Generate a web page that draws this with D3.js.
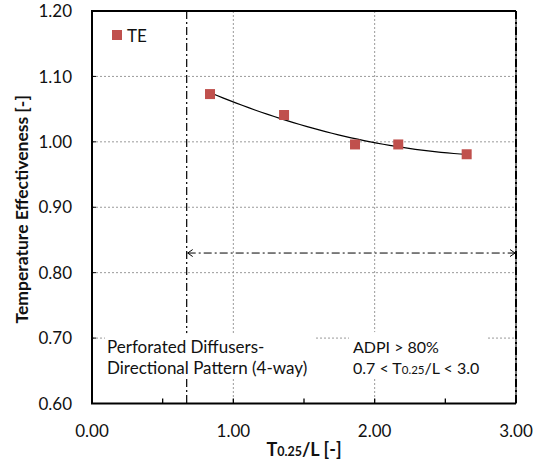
<!DOCTYPE html>
<html lang="en">
<meta charset="utf-8">
<head>
    <script src="https://d3js.org/d3.v7.min.js"></script>
    <style>
        body { margin: 0; background: #fff; }
        svg { font-family: "Lato", "Liberation Sans", sans-serif; }
    </style>
</head>
<body>
<div id="chart"></div>
<script>
// data
var ratio = [0.835, 1.359, 1.861, 2.167, 2.651];      // T0.25/L
var te    = [1.073, 1.041, 0.996, 0.996, 0.981];      // temperature effectiveness
var xTicks = [0, 1, 2, 3];
var xMinor = [0.5, 1.5, 2.5];
var yTicks = [0.6, 0.7, 0.8, 0.9, 1.0, 1.1, 1.2];
var rangeStart = 0.67, rangeEnd = 3.0, rangeY = 0.83;  // ADPI range marker

var margin = {top: 11, right: 21, bottom: 65.5, left: 92},
    width = 537 - margin.left - margin.right,
    height = 469 - margin.top - margin.bottom;

var svg = d3.select("#chart")
  .append("svg")
    .attr("width", 537)
    .attr("height", 469)
  .append("g")
    .attr("transform", "translate(" + margin.left + "," + margin.top + ")");

var x = d3.scaleLinear().domain([0, 3]).range([0, width]);
var y = d3.scaleLinear().domain([0.6, 1.2]).range([height, 0]);

// gridlines
svg.append("g")
  .selectAll("line")
  .data(yTicks.slice(1, -1))
  .enter().append("line")
    .attr("x1", 0).attr("x2", width)
    .attr("y1", function(d) { return y(d); })
    .attr("y2", function(d) { return y(d); })
    .attr("stroke", "#9a9a9a").attr("stroke-dasharray", "2,2");
svg.append("g")
  .selectAll("line")
  .data(xTicks.slice(1, -1))
  .enter().append("line")
    .attr("y1", 0).attr("y2", height)
    .attr("x1", function(d) { return x(d); })
    .attr("x2", function(d) { return x(d); })
    .attr("stroke", "#9a9a9a").attr("stroke-dasharray", "2,2");

// inner ticks
svg.append("g")
  .selectAll("line")
  .data(yTicks)
  .enter().append("line")
    .attr("x1", 0).attr("x2", 4)
    .attr("y1", function(d) { return y(d); })
    .attr("y2", function(d) { return y(d); })
    .attr("stroke", "#000");
svg.append("g")
  .selectAll("line")
  .data(xTicks.concat(xMinor))
  .enter().append("line")
    .attr("y1", height).attr("y2", height - 5)
    .attr("x1", function(d) { return x(d); })
    .attr("x2", function(d) { return x(d); })
    .attr("stroke", "#000").attr("stroke-width", 1.3);

// dash-dot range lines
var dashDot = "8,3,2,3";
svg.append("line")
  .attr("x1", x(rangeStart)).attr("x2", x(rangeStart))
  .attr("y1", 0).attr("y2", height)
  .attr("stroke", "#000").attr("stroke-width", 1.2).attr("stroke-dasharray", dashDot);

svg.append("line")
  .attr("x1", x(rangeStart) + 1).attr("x2", x(rangeEnd) - 1)
  .attr("y1", y(rangeY)).attr("y2", y(rangeY))
  .attr("stroke", "#000").attr("stroke-width", 1).attr("stroke-dasharray", dashDot);
// arrow heads
svg.append("path")
  .attr("d", "M" + (x(rangeStart) + 6) + "," + (y(rangeY) - 3.5) + "L" + (x(rangeStart) + 1) + "," + y(rangeY) +
             "L" + (x(rangeStart) + 6) + "," + (y(rangeY) + 3.5))
  .attr("fill", "none").attr("stroke", "#000");
svg.append("path")
  .attr("d", "M" + (x(rangeEnd) - 6) + "," + (y(rangeY) - 3.5) + "L" + (x(rangeEnd) - 1) + "," + y(rangeY) +
             "L" + (x(rangeEnd) - 6) + "," + (y(rangeY) + 3.5))
  .attr("fill", "none").attr("stroke", "#000");

// note boxes
var notes = svg.append("g");
notes.append("rect")
  .attr("x", 13).attr("y", y(0.7) - 5).attr("width", 210).attr("height", 44)
  .attr("fill", "#fff");
notes.append("rect")
  .attr("x", 257).attr("y", y(0.7) - 6).attr("width", 139).attr("height", 46)
  .attr("fill", "#fff");
var note1 = notes.append("text")
  .attr("font-size", "17px").attr("fill", "#111");
note1.append("tspan").attr("x", 15).attr("y", 342).text("Perforated Diffusers-");
note1.append("tspan").attr("x", 15).attr("y", 363).text("Directional Pattern (4-way)");
var note2 = notes.append("text")
  .attr("font-size", "16px").attr("fill", "#111");
note2.append("tspan").attr("x", 261).attr("y", 342).text("ADPI > 80%");
note2.append("tspan").text("0.7 < T").attr("x", 261).attr("y", 363);
note2.append("tspan").attr("font-size", "11.5px").text("0.25");
note2.append("tspan").text("/L < 3.0");

// right border / range end
svg.append("line")
  .attr("x1", width).attr("x2", width).attr("y1", 0).attr("y2", height)
  .attr("stroke", "#777").attr("stroke-width", 2);
svg.append("line")
  .attr("x1", width).attr("x2", width).attr("y1", 0).attr("y2", height)
  .attr("stroke", "#000").attr("stroke-width", 2).attr("stroke-dasharray", dashDot);

// left, top, bottom frame
svg.append("path")
  .attr("d", "M" + width + ",0H0V" + height + "H" + width)
  .attr("fill", "none").attr("stroke", "#000").attr("stroke-width", 2);

// quadratic trend line (least squares on the points)
function quadFit(xs, ys) {
  var n = xs.length, s = [0, 0, 0, 0, 0], t = [0, 0, 0];
  for (var i = 0; i < n; i++) {
    var p = 1;
    for (var k = 0; k < 5; k++) { s[k] += p; if (k < 3) t[k] += p * ys[i]; p *= xs[i]; }
  }
  var A = [[s[0], s[1], s[2], t[0]], [s[1], s[2], s[3], t[1]], [s[2], s[3], s[4], t[2]]];
  for (var c = 0; c < 3; c++) {
    for (var r = c + 1; r < 3; r++) {
      var f = A[r][c] / A[c][c];
      for (var j = c; j < 4; j++) A[r][j] -= f * A[c][j];
    }
  }
  var b = [0, 0, 0];
  for (var r = 2; r >= 0; r--) {
    var v = A[r][3];
    for (var j = r + 1; j < 3; j++) v -= A[r][j] * b[j];
    b[r] = v / A[r][r];
  }
  return function(v) { return b[0] + b[1] * v + b[2] * v * v; };
}
var trend = quadFit(ratio, te);
var trendPts = d3.range(0, 41).map(function(i) {
  var v = ratio[0] + (ratio[ratio.length - 1] - ratio[0]) * i / 40;
  return [v, trend(v)];
});
svg.append("path")
  .datum(trendPts)
  .attr("d", d3.line().x(function(d) { return x(d[0]); }).y(function(d) { return y(d[1]); }))
  .attr("fill", "none").attr("stroke", "#000").attr("stroke-width", 1.2);

// markers
svg.append("g")
  .selectAll("rect")
  .data(ratio)
  .enter().append("rect")
    .attr("x", function(d) { return x(d) - 5; })
    .attr("y", function(d, i) { return y(te[i]) - 5; })
    .attr("width", 10).attr("height", 10)
    .attr("fill", "#C0504D");

// tick labels
svg.append("g")
  .selectAll("text")
  .data(yTicks)
  .enter().append("text")
    .attr("x", -20)
    .attr("y", function(d) { return y(d); })
    .attr("dy", "0.36em")
    .attr("text-anchor", "end")
    .attr("font-size", "17px").attr("fill", "#111")
    .text(function(d) { return d.toFixed(2); });
svg.append("g")
  .selectAll("text")
  .data(xTicks)
  .enter().append("text")
    .attr("x", function(d) { return x(d); })
    .attr("y", height + 33)
    .attr("text-anchor", "middle")
    .attr("font-size", "17px").attr("fill", "#111")
    .text(function(d) { return d.toFixed(2); });

// axis titles
var xt = svg.append("text")
  .attr("x", width / 2).attr("y", height + 52)
  .attr("text-anchor", "middle")
  .attr("font-size", "18px").attr("font-weight", "bold").attr("fill", "#111");
xt.append("tspan").text("T");
xt.append("tspan").attr("font-size", "12.5px").text("0.25");
xt.append("tspan").text("/L [-]");

svg.append("text")
  .attr("transform", "translate(" + (-64) + "," + (height / 2 + 2) + ") rotate(-90)")
  .attr("text-anchor", "middle")
  .attr("font-size", "17.5px").attr("font-weight", "bold").attr("fill", "#111")
  .text("Temperature Effectiveness [-]");

// legend
svg.append("rect")
  .attr("x", 20).attr("y", 19).attr("width", 10).attr("height", 10)
  .attr("fill", "#C0504D");
svg.append("text")
  .attr("x", 35).attr("y", 30.5)
  .attr("font-size", "17px").attr("fill", "#111")
  .text("TE");
</script>
</body>
</html>
